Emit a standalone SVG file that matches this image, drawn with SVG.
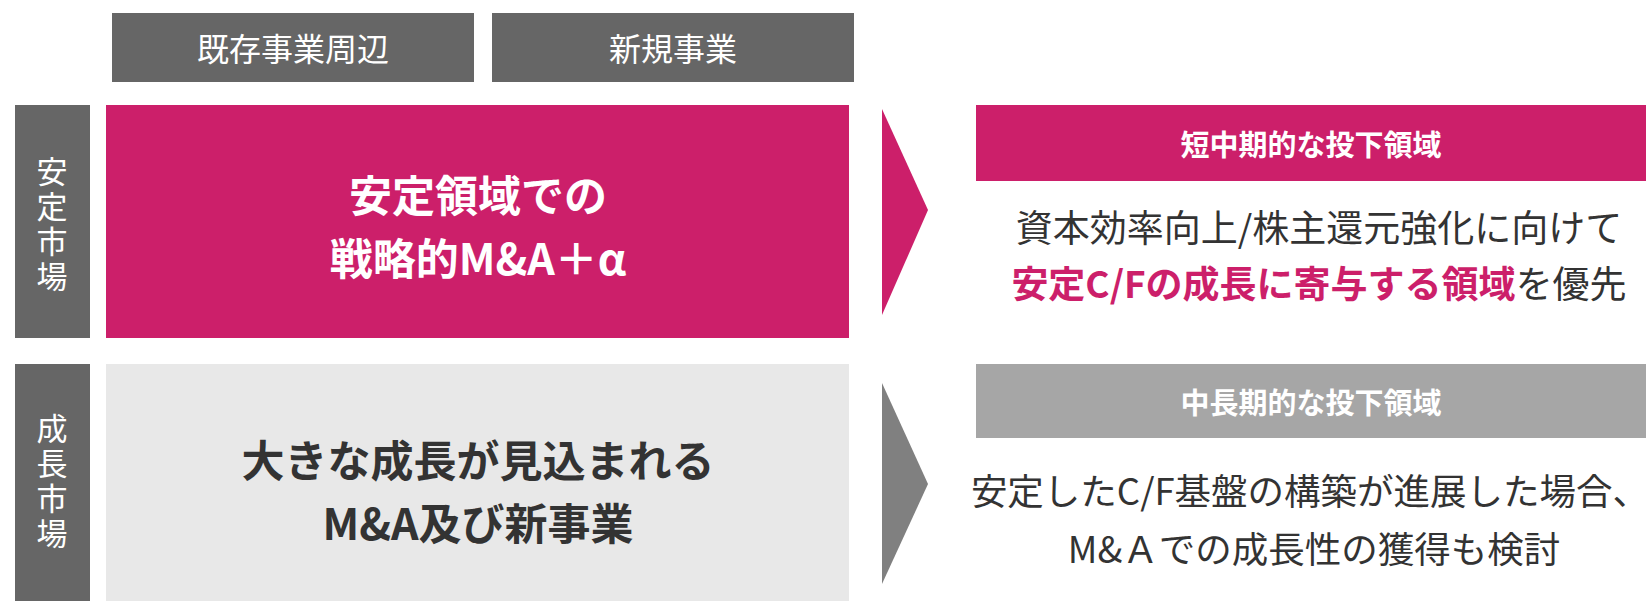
<svg xmlns="http://www.w3.org/2000/svg" width="1646" height="601" viewBox="0 0 1646 601">
<style>
.hd{fill:#666666}
.pk{fill:#cc1f6a}
.t{font-family:"Noto Sans CJK JP","Noto Sans",sans-serif;text-anchor:middle;dominant-baseline:central}
.v{font-family:"Noto Sans CJK JP","Noto Sans",sans-serif;text-anchor:middle;writing-mode:vertical-rl;font-size:31px;letter-spacing:4px}
.w{fill:#ffffff}
.d{fill:#333333}
.b{font-weight:700}
</style>
<rect width="1646" height="601" fill="#ffffff"/>
<g id="col-existing"><rect class="hd" x="112" y="13" width="362" height="69"/><text class="t w" x="293" y="47" font-size="32">既存事業周辺</text></g>
<g id="col-new"><rect class="hd" x="492" y="13" width="362" height="69"/><text class="t w" x="673" y="47" font-size="32">新規事業</text></g>
<g id="row-stable"><rect class="hd" x="15" y="105" width="75" height="233"/><text class="v w" x="52" y="226">安定市場</text></g>
<g id="row-growth"><rect class="hd" x="15" y="364" width="75" height="237"/><text class="v w" x="52" y="483">成長市場</text></g>
<g id="box-stable"><rect class="pk" x="106" y="105" width="743" height="233"/><text class="t w b" font-size="43"><tspan x="478" y="193">安定領域での</tspan><tspan x="478" y="256">戦略的M&amp;A＋α</tspan></text></g>
<g id="box-growth"><rect fill="#e8e8e8" x="106" y="364" width="743" height="237"/><text class="t d b" font-size="43"><tspan x="478" y="458">大きな成長が見込まれる</tspan><tspan x="478" y="521">M&amp;A及び新事業</tspan></text></g>
<g id="connectors">
<polygon class="pk" points="882,109 928,210 882,315"/>
<polygon fill="#808080" points="882,383 928,484 882,584"/>
</g>
<g id="out-short"><rect class="pk" x="976" y="105" width="670" height="76"/><text class="t w b" x="1311" y="143" font-size="29">短中期的な投下領域</text>
<text class="t d" x="1319" y="226" font-size="37">資本効率向上/株主還元強化に向けて</text>
<text class="t d" x="1319" y="282" font-size="37"><tspan class="b" fill="#cc1f6a">安定C/Fの成長に寄与する領域</tspan>を優先</text></g>
<g id="out-mid"><rect fill="#a6a6a6" x="976" y="364" width="670" height="74"/><text class="t w b" x="1311" y="401" font-size="29">中長期的な投下領域</text>
<text class="t d" x="1310" y="489" font-size="36.5">安定したC/F基盤の構築が進展した場合、</text>
<text class="t d" x="1314" y="547" font-size="36.5">M&amp;Ａでの成長性の獲得も検討</text></g>
</svg>
